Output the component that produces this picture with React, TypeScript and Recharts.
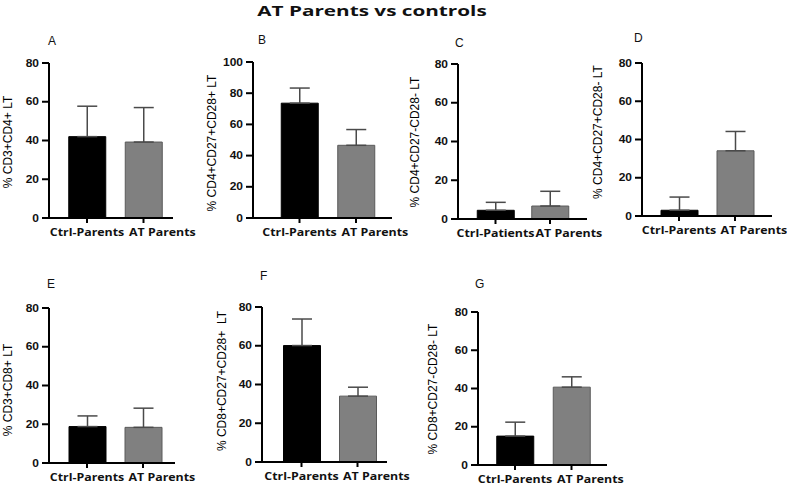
import React from 'react';
import { BarChart, Bar, XAxis, YAxis, ErrorBar, Cell } from 'recharts';

const title = 'AT Parents vs controls';
const groupsParents = ['Ctrl-Parents', 'AT Parents'];
const groupsPatients = ['Ctrl-Patients', 'AT Parents'];
const panelLetters = ['A', 'B', 'C', 'D', 'E', 'F', 'G'];
const yLabels = [
  '% CD3+CD4+ LT',
  '% CD4+CD27+CD28+ LT',
  '% CD4+CD27-CD28- LT',
  '% CD4+CD27+CD28- LT',
  '% CD3+CD8+ LT',
  '% CD8+CD27+CD28+  LT',
  '% CD8+CD27-CD28- LT',
];
const yTicks80 = [0, 20, 40, 60, 80];
const yTicks100 = [0, 20, 40, 60, 80, 100];

const meanA = [42.0, 39.2];
const errA = [15.7, 17.8];
const meanB = [73.6, 46.6];
const errB = [9.7, 10.1];
const meanC = [4.5, 6.7];
const errC = [4.1, 7.6];
const meanD = [3.0, 34.1];
const errD = [6.9, 10.1];
const meanE = [18.8, 18.4];
const errE = [5.5, 9.9];
const meanF = [60.1, 34.0];
const errF = [13.7, 4.6];
const meanG = [15.1, 40.7];
const errG = [7.3, 5.4];

const barColors = ['#000000', '#808080'];
const barStrokes = ['#000000', '#5a5a5a'];

const panels = [
  { groups: groupsParents, mean: meanA, err: errA, ticks: yTicks80 },
  { groups: groupsParents, mean: meanB, err: errB, ticks: yTicks100 },
  { groups: groupsPatients, mean: meanC, err: errC, ticks: yTicks80 },
  { groups: groupsParents, mean: meanD, err: errD, ticks: yTicks80 },
  { groups: groupsParents, mean: meanE, err: errE, ticks: yTicks80 },
  { groups: groupsParents, mean: meanF, err: errF, ticks: yTicks80 },
  { groups: groupsParents, mean: meanG, err: errG, ticks: yTicks80 },
];

// layout (pixel positions of each panel's plot frame)
const layout = [
  { axisX: 49, axisEnd: 173, top: 63, bottom: 218, c1: 87, c2: 143.5, labelX: 8, labelY: 142, letterX: 48, letterY: 45 },
  { axisX: 253, axisEnd: 392, top: 62, bottom: 218, c1: 299.5, c2: 356, labelX: 212, labelY: 143, letterX: 258, letterY: 44 },
  { axisX: 458, axisEnd: 587, top: 64, bottom: 219, c1: 495.5, c2: 550, labelX: 415, labelY: 142, letterX: 455, letterY: 47 },
  { axisX: 642, axisEnd: 772, top: 63, bottom: 216, c1: 679, c2: 735, labelX: 598, labelY: 132, letterX: 634, letterY: 42 },
  { axisX: 49, axisEnd: 175, top: 308, bottom: 463, c1: 87, c2: 143, labelX: 8, labelY: 390, letterX: 47, letterY: 288 },
  { axisX: 262, axisEnd: 387, top: 307, bottom: 462, c1: 301.5, c2: 357.5, labelX: 222, labelY: 381, letterX: 260, letterY: 280 },
  { axisX: 478, axisEnd: 607, top: 312, bottom: 465, c1: 515, c2: 571.5, labelX: 433, labelY: 389, letterX: 475, letterY: 288 },
];

const ML = 60;
const MT = 20;
const MB = 34;
const MR = 10;

const XTick = (props: any) => {
  const { x, y, payload, index } = props;
  const first = index === 0;
  const tx = first ? x : x - 14.5;
  return (
    <text
      transform={`translate(${tx},${y}) scale(1.18,1)`}
      textAnchor={first ? 'middle' : 'start'}
      dy="0.71em"
      fill="#111"
      fontFamily="'Open Sans', sans-serif"
      fontWeight={700}
      fontSize={10.5}
    >
      {payload.value}
    </text>
  );
};

const YTick = (props: any) => {
  const { x, y, payload } = props;
  return (
    <text
      transform={`translate(${x},${y}) scale(1.2,1)`}
      textAnchor="end"
      dy="0.36em"
      fill="#111"
      fontFamily="'Liberation Sans', Arial, sans-serif"
      fontWeight={700}
      fontSize={10}
    >
      {payload.value}
    </text>
  );
};

function Panel({ idx }: { idx: number }) {
  const p = panels[idx];
  const L = layout[idx];
  const data = p.groups.map((g, i) => ({ group: g, value: p.mean[i], err: [0, p.err[i]] }));
  const band = L.c2 - L.c1;
  const pl = L.c1 - band / 2 - L.axisX;
  const pr = L.axisEnd - (L.c2 + band / 2);
  const width = L.axisEnd - L.axisX + ML + MR + 40;
  const height = L.bottom - L.top + MT + MB;
  const max = p.ticks[p.ticks.length - 1];
  return (
    <div style={{ position: 'absolute', left: L.axisX - ML, top: L.top - MT }}>
      <BarChart width={width} height={height} data={data} margin={{ top: MT, right: MR + 40, bottom: 0, left: 0 }} barSize={37}>
        <XAxis
          dataKey="group"
          height={MB}
          padding={{ left: pl, right: pr }}
          interval={0}
          tickSize={5}
          tickMargin={6}
          axisLine={{ stroke: '#000', strokeWidth: 2 }}
          tickLine={{ stroke: '#000', strokeWidth: 2 }}
          tick={XTick}
        />
        <YAxis
          width={ML}
          domain={[0, max]}
          ticks={p.ticks}
          interval={0}
          tickSize={7}
          tickMargin={3}
          axisLine={{ stroke: '#000', strokeWidth: 2 }}
          tickLine={{ stroke: '#000', strokeWidth: 2 }}
          tick={YTick}
        />
        <Bar dataKey="value" isAnimationActive={false}>
          {data.map((d, i) => (
            <Cell key={d.group} fill={barColors[i]} stroke={barStrokes[i]} strokeWidth={1} />
          ))}
          <ErrorBar dataKey="err" direction="y" width={10} stroke="#4a4a4a" strokeWidth={1.5} />
        </Bar>
      </BarChart>
    </div>
  );
}

export default function App() {
  return (
    <div style={{ position: 'absolute', left: 0, top: 0, width: 787, height: 485, background: '#fff', overflow: 'hidden' }}>
      <div
        style={{
          position: 'absolute',
          left: 372,
          top: 0,
          lineHeight: '20px',
          transform: 'translateX(-50%) scaleX(1.38)',
          fontFamily: "'Open Sans', sans-serif",
          fontWeight: 700,
          fontSize: 15,
          color: '#111',
          whiteSpace: 'nowrap',
        }}
      >
        {title}
      </div>
      {panels.map((_, i) => (
        <Panel key={i} idx={i} />
      ))}
      <svg width={787} height={485} style={{ position: 'absolute', left: 0, top: 0, pointerEvents: 'none' }}>
        {layout.map((L, i) => (
          <g key={i}>
            <text
              x={L.letterX}
              y={L.letterY}
              fontFamily="'Liberation Sans', Arial, sans-serif"
              fontSize={12}
              fill="#111"
            >
              {panelLetters[i]}
            </text>
            <text
              x={L.labelX}
              y={L.labelY}
              transform={`rotate(-90 ${L.labelX} ${L.labelY})`}
              textAnchor="middle"
              dominantBaseline="central"
              fontFamily="'Liberation Sans', Arial, sans-serif"
              fontSize={12}
              fill="#000"
              style={{ whiteSpace: 'pre' }}
            >
              {yLabels[i]}
            </text>
          </g>
        ))}
      </svg>
    </div>
  );
}
